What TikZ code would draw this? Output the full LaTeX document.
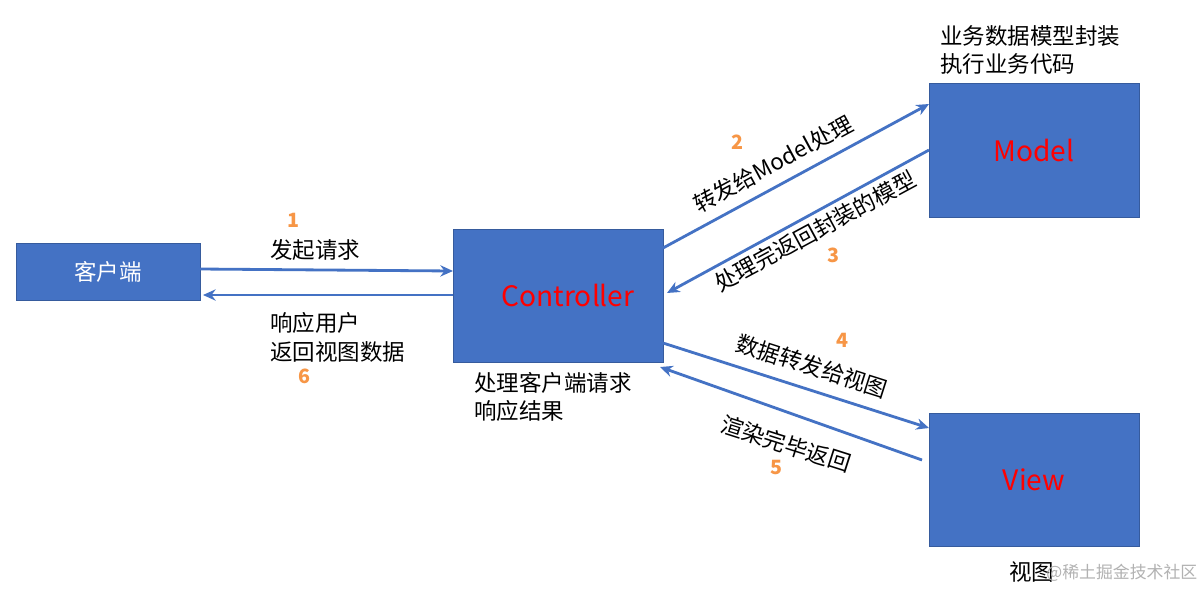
\documentclass[tikz,border=0pt]{standalone}
\usepackage{fontspec}
\setmainfont{Noto Sans CJK SC}
\usetikzlibrary{arrows.meta}
\definecolor{bx}{HTML}{4472C4}
\definecolor{org}{HTML}{F79646}
\begin{document}
\begin{tikzpicture}[x=0.025cm,y=-0.025cm,
  box/.style={fill=bx,draw=bx!80!black,line width=0.6pt,minimum width=#1,inner sep=0pt},
  arr/.style={draw=bx,line width=2pt,-{Stealth[length=9pt,width=8pt]}},
  lbl/.style={font=\fontsize{16}{18}\selectfont,inner sep=0pt},
  num/.style={font=\bfseries\fontsize{14}{16}\selectfont,text=org,inner sep=0pt}]
\useasboundingbox[fill=white] (0,0) rectangle (1202,601);
\node[box=4.6cm,minimum height=1.425cm,text=white,font=\fontsize{16}{18}\selectfont] (client) at (108,271.5) {客户端};
\node[box=5.25cm,minimum height=3.325cm,text=red,font=\fontsize{20}{22}\selectfont] (ctrl) at (558,295.5) {\hspace{0.5cm}Controller};
\node[box=5.25cm,minimum height=3.35cm,text=red,font=\fontsize{20}{22}\selectfont] (model) at (1034,150) {Model};
\node[box=5.25cm,minimum height=3.325cm,text=red,font=\fontsize{20}{22}\selectfont] (view) at (1034,479.5) {View};
\coordinate (a1s) at (200,269); \coordinate (a1e) at (453,271);
\coordinate (a6s) at (453,295); \coordinate (a6e) at (203,295);
\coordinate (a2s) at (663,248); \coordinate (a2e) at (929,104);
\coordinate (a3s) at (929,150); \coordinate (a3e) at (667,293);
\coordinate (a4s) at (663,343); \coordinate (a4e) at (929,428);
\coordinate (a5s) at (922,460); \coordinate (a5e) at (660,367);
\draw[arr] (a1s) -- (a1e);
\draw[arr] (a6s) -- (a6e);
\draw[arr] (a2s) -- (a2e);
\draw[arr] (a3s) -- (a3e);
\draw[arr] (a4s) -- (a4e);
\draw[arr] (a5s) -- (a5e);
\node[num] (n1) at (293,220) {1};
\node[lbl,anchor=west] (t1) at (270,250) {发起请求};
\node[lbl,anchor=west] (t6a) at (270,323) {响应用户};
\node[lbl,anchor=west] (t6b) at (270,352) {返回视图数据};
\node[num] (n6) at (304,376) {6};
\node[num] (n2) at (737,142) {2};
\node[lbl,rotate=28.4] (t2) at (773,164) {转发给Model处理};
\node[lbl,rotate=28.4] (t3) at (815,231) {处理完返回封装的模型};
\node[num] (n3) at (833,255) {3};
\node[num] (n4) at (842,340) {4};
\node[lbl,rotate=-17.7] (t4) at (812,366) {数据转发给视图};
\node[lbl,rotate=-17.7] (t5) at (786,444) {渲染完毕返回};
\node[num] (n5) at (776,467) {5};
\node[lbl,anchor=west] (m1) at (940,36) {业务数据模型封装};
\node[lbl,anchor=west] (m2) at (940,64) {执行业务代码};
\node[lbl,anchor=west] (c1) at (474,383) {处理客户端请求};
\node[lbl,anchor=west] (c2) at (474,411) {响应结果};
\node[lbl,anchor=west] (v1) at (1009,572) {视图};
\node[lbl,anchor=west,text=gray!60,font=\fontsize{12}{14}\selectfont] (wm) at (1046,573) {@稀土掘金技术社区};
\end{tikzpicture}
\end{document}
